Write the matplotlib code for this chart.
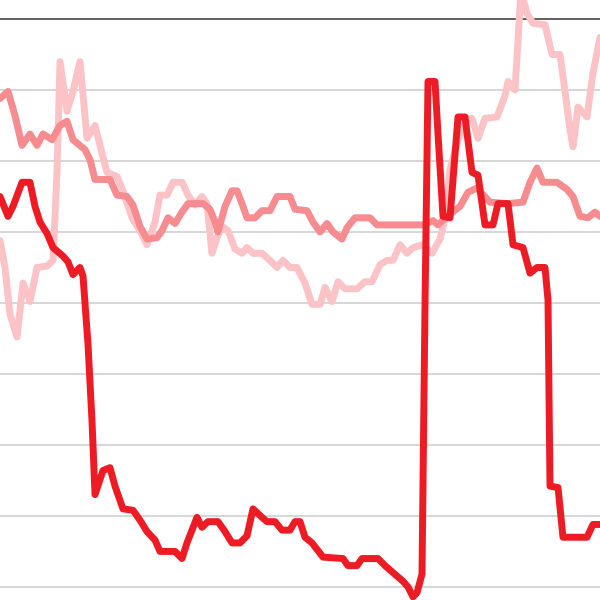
import numpy as np
import matplotlib
matplotlib.use("Agg")
import matplotlib.pyplot as plt

# Series data (x in half-days, y in percent)
dark_x = [0, 4, 6.5, 11, 15, 17.5, 20, 23.5, 26.5, 31.5, 34, 36.5, 40, 41.5, 44, 46, 47.5,
          51.5, 55, 57.5, 61.5, 66.5, 70, 73.5, 77.5, 80, 87.5, 91, 93.5, 98.5, 101, 104,
          109, 112.5, 116, 120, 123.5, 126.5, 131, 133.5, 137.5, 141, 145, 147.5, 150,
          152.5, 156, 161.5, 171.5, 174, 178.5, 181, 189, 192.5, 201.5, 204, 206.5, 208.5,
          211, 212.5, 214, 217.5, 219, 221.5, 225, 229, 232.5, 236, 239, 242.5, 246.5, 249,
          254, 256.5, 261.5, 265, 268.5, 272.5, 274, 275, 279, 281.5, 293.5, 296.5, 300]
dark_y = [27.5, 26.1, 26.8, 28.5, 28.5, 26.8, 25.7, 24.9, 23.9, 23.3, 22.9, 22.0, 22.5, 21.9,
          17.1, 11.7, 6.5, 8.2, 8.4, 7.1, 5.5, 5.4, 4.7, 3.9, 3.3, 2.5, 2.5, 2.0, 3.1, 4.9,
          4.2, 4.6, 4.6, 3.9, 3.1, 3.1, 3.6, 5.5, 4.9, 4.6, 4.6, 4.0, 4.0, 4.6, 4.6, 3.5, 3.1,
          2.1, 2.0, 1.5, 1.5, 2.0, 2.0, 1.5, 0.4, 0.0, -0.7, -0.4, 0.9, 19.8, 35.6, 35.6,
          31.9, 26.1, 26.0, 33.1, 33.1, 29.2, 29.0, 25.5, 25.5, 27.0, 27.0, 24.1, 23.9, 22.1,
          22.5, 22.5, 20.2, 7.1, 7.0, 3.5, 3.5, 4.4, 4.4]

mid_x = [0, 4, 7.5, 11, 15, 18.5, 21.5, 26, 30, 33.5, 36.5, 42.5, 45, 47.5, 55, 58.5, 63.5,
         66.5, 70, 73.5, 78.5, 81, 84, 87.5, 91, 94, 101.5, 105, 107.5, 109, 112.5, 116,
         118.5, 121, 123.5, 127.5, 131, 135, 138.5, 145, 147.5, 153.5, 156.5, 160, 163.5,
         166.5, 171, 173.5, 177.5, 185, 188.5, 211.5, 216.5, 219, 223.5, 230, 234, 238.5,
         245, 254, 261.5, 265, 268.5, 271.5, 278.5, 283.5, 286.5, 290, 294, 297.5, 300]
mid_y = [34.4, 34.9, 33.2, 31.1, 31.9, 31.1, 31.9, 31.5, 32.5, 32.8, 31.5, 30.8, 30.1, 28.7,
         28.7, 27.6, 27.5, 26.9, 25.4, 24.5, 24.6, 25.1, 26.0, 25.6, 26.4, 27.0, 27.0, 26.6,
         25.7, 25.0, 26.8, 27.9, 27.9, 27.0, 26.0, 26.0, 26.5, 26.5, 27.5, 27.5, 26.6, 26.5,
         25.7, 25.0, 25.6, 25.0, 24.5, 25.3, 26.0, 26.0, 25.5, 25.5, 25.8, 25.5, 26.1, 26.8,
         27.8, 28.1, 27.1, 27.0, 27.1, 28.5, 29.5, 28.5, 28.5, 28.0, 27.5, 26.1, 26.0, 26.4,
         26.1]

light_x = [0, 2.5, 5, 8.5, 11.5, 15, 18.5, 23.5, 26.5, 28.5, 30, 33.5, 36.5, 40, 43.5, 47.5,
           50, 53.5, 58.5, 61.5, 66, 70, 73.5, 77.5, 80, 83.5, 86.5, 91, 94, 97.5, 101,
           103.5, 106, 108.5, 111, 114, 117.5, 121, 123.5, 126.5, 131, 135, 138.5, 141.5,
           145, 148.5, 152.5, 156, 160, 162.5, 166, 169, 172.5, 178.5, 182.5, 186, 190,
           193.5, 196.5, 200, 203.5, 206.5, 211.5, 216, 220, 223, 225, 229, 233.5, 236, 239,
           242.5, 248.5, 252.5, 254, 257.5, 260.5, 263.5, 266.5, 272.5, 276, 280, 282.5,
           285, 286.5, 289, 293.5, 296.5, 300]
light_y = [24.4, 22.5, 19.2, 17.6, 21.4, 20.1, 22.5, 22.6, 23.0, 29.2, 37.0, 33.5, 34.9,
           37.0, 31.6, 32.5, 31.1, 29.2, 28.9, 27.9, 26.0, 25.1, 24.1, 25.7, 27.6, 27.6,
           28.5, 28.5, 27.6, 26.9, 27.5, 27.0, 23.5, 24.6, 25.4, 25.1, 23.8, 23.5, 23.9,
           23.5, 23.5, 23.0, 22.5, 23.0, 22.5, 22.5, 21.4, 19.9, 19.9, 21.1, 20.1, 21.5,
           21.0, 21.0, 21.5, 21.5, 22.7, 23.0, 23.0, 24.1, 23.5, 23.9, 24.1, 23.5, 24.5,
           26.2, 29.4, 31.5, 33.0, 33.0, 31.6, 33.0, 33.1, 34.6, 35.6, 35.0, 42.0, 40.4,
           39.7, 39.6, 37.5, 37.5, 34.9, 32.2, 31.0, 33.8, 33.1, 36.2, 38.7]

grid_values = [0, 5, 10, 15, 20, 25, 30, 35]
top_value = 40

fig = plt.figure(figsize=(6, 6), dpi=100)
ax = fig.add_axes([0, 0, 1, 1])

for v in grid_values:
    ax.axhline(v, color="#cccccc", lw=1.1, zorder=1)
ax.axhline(top_value, color="#333333", lw=1.1, zorder=1)

ax.plot(light_x, light_y, color="#fcc3c6", lw=5.0, solid_joinstyle="round",
        solid_capstyle="round", zorder=2)
ax.plot(mid_x, mid_y, color="#f68b90", lw=5.0, solid_joinstyle="round",
        solid_capstyle="round", zorder=3)
ax.plot(dark_x, dark_y, color="#ed1c24", lw=5.0, solid_joinstyle="round",
        solid_capstyle="round", zorder=4)

ax.set_xlim(0, 300)
ax.set_ylim(-0.92, 41.34)
ax.axis("off")

fig.savefig("out.png", dpi=100)
